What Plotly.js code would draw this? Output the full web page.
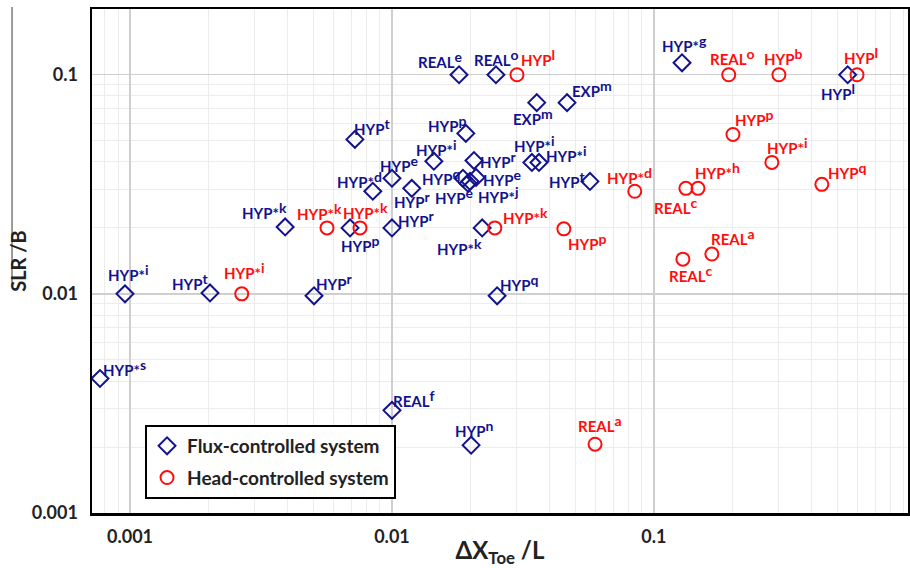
<!DOCTYPE html>
<html>
<head>
<meta charset="utf-8">
<script src="https://cdn.plot.ly/plotly-3.0.1.min.js"></script>
<style>html,body{margin:0;padding:0;background:#fff;}#chart{width:910px;height:568px;}</style>
</head>
<body>
<div id="chart"></div>
<script>
// ---- Data: flux-controlled systems (blue diamonds) ----
const fluxX = [0.000768, 0.000957, 0.00202, 0.00391, 0.00504, 0.00692, 0.00722, 0.00845, 0.0100, 0.0119,
               0.0100, 0.01445, 0.01914, 0.02056, 0.01866, 0.0195, 0.02094, 0.01986, 0.0221, 0.0252,
               0.01803, 0.02494, 0.0357, 0.0466, 0.0342, 0.0364, 0.0570, 0.128, 0.549, 0.0100, 0.02005];
const fluxY = [0.00411, 0.0100, 0.0101, 0.0202, 0.0098, 0.0200, 0.0507, 0.0294, 0.0337, 0.0303,
               0.0200, 0.0403, 0.0540, 0.0406, 0.0337, 0.0320, 0.0340, 0.0326, 0.0200, 0.0098,
               0.100, 0.100, 0.0746, 0.0746, 0.0398, 0.0398, 0.0326, 0.1134, 0.100, 0.00294, 0.00204];
const fluxBase = ["HYP*", "HYP*", "HYP", "HYP*", "HYP", "HYP", "HYP", "HYP*", "HYP", "HYP",
                  "HYP", "HYP*", "HYP", "HYP", "HYP", "HYP", "HYP", "HYP*", "HYP*", "HYP",
                  "REAL", "REAL", "EXP", "EXP", "HYP*", "HYP*", "HYP", "HYP*", "HYP", "REAL", "HYP"];
const fluxSup  = ["s", "i", "t", "k", "r", "p", "t", "d", "e", "r",
                  "r", "i", "p", "r", "q", "e", "e", "j", "k", "q",
                  "e", "o", "m", "m", "i", "i", "t", "g", "l", "f", "n"];

// ---- Data: head-controlled systems (red circles) ----
const headX = [0.00267, 0.00565, 0.00755, 0.0247, 0.0453, 0.0300, 0.0845, 0.193, 0.300, 0.596,
               0.2003, 0.282, 0.4375, 0.1324, 0.1473, 0.1664, 0.129, 0.0596];
const headY = [0.0100, 0.0200, 0.0200, 0.0200, 0.0198, 0.100, 0.0294, 0.100, 0.100, 0.100,
               0.0534, 0.0398, 0.0316, 0.0303, 0.0303, 0.0152, 0.0144, 0.00206];
const headBase = ["HYP*", "HYP*", "HYP*", "HYP*", "HYP", "HYP", "HYP*", "REAL", "HYP", "HYP",
                  "HYP", "HYP*", "HYP", "REAL", "HYP*", "REAL", "REAL", "REAL"];
const headSup  = ["i", "k", "k", "k", "p", "l", "d", "o", "b", "l",
                  "p", "i", "q", "c", "h", "a", "c", "a"];

// Axis tick labels
const tickVals = [0.001, 0.01, 0.1];
const tickText = ["0.001", "0.01", "0.1"];

// ---- Label placement (pixel offsets from each marker) ----
const fluxDx = [25, 3, -20, -21, 20, 10, 18, -13, 8, 1, 25, 3, -18, 25, -21, -13, 26, 28, -23, 22, -19, 1, -4, 25, 3, 28, -22, 2, -10, 22, 3];
const fluxDy = [11, 21, 11, 16, 14, -16, 13, 12, 15, -11, 9, 14, 10, 1, 2, -12, 0, -13, -19, 13, 15, 17, -14, 14, 19, 9, 2, 19, -17, 12, 17];
const headDx = [3, -8, 6, 31, 24, 21, -5, 4, 5, 4, 22, 16, 26, -10, 20, 21, 8, 5];
const headDy = [23, 16, 17, 12, -13, 17, 16, 18, 18, 19, 17, 17, 14, -17, 18, 18, -14, 21];

const BLUE = '#12128e';
const RED = '#ff0d0d';
const FONT = 'Lato, "Open Sans", sans-serif';

const traces = [
  {x: fluxX, y: fluxY, type: 'scatter', mode: 'markers', name: 'Flux-controlled system',
   legendgroup: 'a',
   marker: {symbol: 'diamond-open', size: 13, color: BLUE, line: {width: 2, color: BLUE}}},
  {x: headX, y: headY, type: 'scatter', mode: 'markers', name: 'Head-controlled system',
   legendgroup: 'b',
   marker: {symbol: 'circle-open', size: 13, color: RED, line: {width: 2, color: RED}}}
];

const annotations = [];
function addLabels(xs, ys, base, sup, dxs, dys, color) {
  for (let i = 0; i < xs.length; i++) {
    annotations.push({
      x: Math.log10(xs[i]), y: Math.log10(ys[i]), xref: 'x', yref: 'y',
      text: base[i] + '<sup><span style="font-size:14px">' + sup[i] + '</span></sup>',
      showarrow: false, xanchor: 'center', yanchor: 'middle',
      xshift: dxs[i], yshift: dys[i],
      font: {family: FONT, size: 15, color: color, weight: 'bold'}
    });
  }
}
addLabels(fluxX, fluxY, fluxBase, fluxSup, fluxDx, fluxDy, BLUE);
addLabels(headX, headY, headBase, headSup, headDx, headDy, RED);

const axisCommon = {
  type: 'log', showline: true, linecolor: '#000', linewidth: 2.5, mirror: true,
  ticks: '', showgrid: true, gridcolor: '#cfcfcf', gridwidth: 1.5, zeroline: false,
  tickmode: 'array', tickvals: tickVals, ticktext: tickText,
  tickfont: {family: FONT, size: 18, color: '#222', weight: 'bold'},
  minor: {dtick: 'D1', showgrid: true, gridcolor: '#ececec', gridwidth: 1, ticks: ''}
};

const layout = {
  width: 910, height: 568,
  margin: {l: 92, r: 2, t: 9, b: 55},
  paper_bgcolor: '#fff', plot_bgcolor: '#fff',
  showlegend: true,
  legend: {x: 0.065, y: 0.1746, xanchor: 'left', yanchor: 'top', bgcolor: '#fff',
           bordercolor: '#000', borderwidth: 2, tracegroupgap: 4, traceorder: 'grouped',
           font: {family: FONT, size: 19, color: '#222', weight: 'bold'}},
  xaxis: Object.assign({}, axisCommon, {
    range: [Math.log10(0.000716), Math.log10(0.933)],
    ticklabelstandoff: 6,
    title: {text: 'ΔX<sub>Toe</sub> /L', font: {family: FONT, size: 24, color: '#222', weight: 'bold'}, standoff: 2}
  }),
  yaxis: Object.assign({}, axisCommon, {
    range: [-3, -0.7],
    ticklabelstandoff: 8,
    title: {text: 'SLR /B', font: {family: FONT, size: 20, color: '#222', weight: 'bold'}, standoff: 0}
  }),
  annotations: annotations,
  shapes: [{type: 'line', xref: 'paper', yref: 'paper', x0: -0.098, x1: -0.098, y0: 0.45, y1: 1.004,
            line: {color: '#7a7a7a', width: 1.5}}]
};

Plotly.newPlot('chart', traces, layout, {displayModeBar: false, staticPlot: true});
</script>
</body>
</html>
